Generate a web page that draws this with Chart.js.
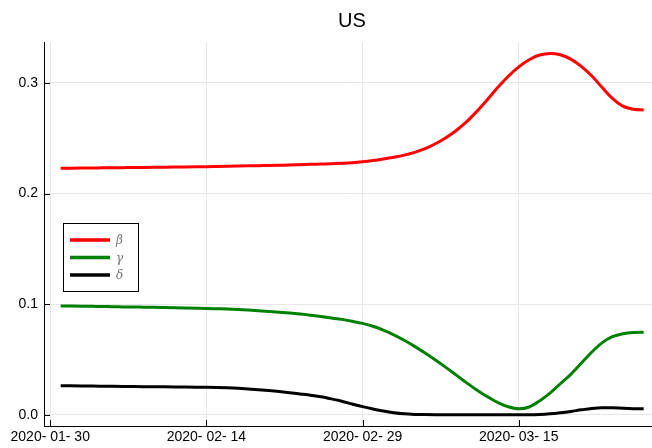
<!DOCTYPE html>
<html>
<head>
<meta charset="utf-8">
<script src="https://cdn.jsdelivr.net/npm/chart.js@4/dist/chart.umd.min.js"></script>
<style>
  html, body { margin: 0; padding: 0; background: #fff; }
  #wrap { width: 652px; height: 448px; position: relative; }
</style>
</head>
<body>
<div id="wrap"><canvas id="c" width="652" height="448"></canvas></div>
<script>
// Days since 2020-01-30
const days = [1,2,3,4,5,6,7,8,9,10,11,12,13,14,15,16,17,18,19,20,21,22,23,24,25,26,27,28,29,30,
  31,32,33,34,35,36,37,38,39,40,41,42,43,44,45,46,47,48,49,50,51,52,53,54,55,56,57];

const beta = [0.2228,0.2229,0.2230,0.2231,0.2232,0.2233,0.2234,0.2235,0.2236,0.2237,
  0.2238,0.2239,0.2240,0.2241,0.2242,0.2244,0.2246,0.2248,0.2250,0.2252,
  0.2254,0.2256,0.2258,0.2261,0.2264,0.2267,0.2270,0.2274,0.2279,0.2287,
  0.2298,0.2312,0.2328,0.2347,0.2372,0.2405,0.2450,0.2505,0.2570,0.2650,
  0.2745,0.2850,0.2960,0.3060,0.3145,0.3210,0.3252,0.3267,0.3255,0.3215,
  0.3150,0.3065,0.2960,0.2860,0.2790,0.2762,0.2755];

const gamma = [0.0983,0.0982,0.0981,0.0980,0.0978,0.0977,0.0975,0.0974,0.0972,0.0971,
  0.0969,0.0967,0.0965,0.0963,0.0961,0.0958,0.0955,0.0951,0.0946,0.0940,
  0.0934,0.0927,0.0919,0.0910,0.0900,0.0888,0.0875,0.0862,0.0845,0.0826,
  0.0800,0.0765,0.0722,0.0673,0.0618,0.0558,0.0495,0.0428,0.0358,0.0288,
  0.0222,0.0162,0.0110,0.0072,0.0054,0.0070,0.0125,0.0195,0.0280,0.0365,
  0.0465,0.0565,0.0650,0.0705,0.0732,0.0743,0.0745];

const delta = [0.0262,0.0261,0.0260,0.0259,0.0258,0.0257,0.0256,0.0255,0.0254,0.0253,
  0.0252,0.0251,0.0250,0.0249,0.0248,0.0246,0.0243,0.0239,0.0233,0.0226,
  0.0218,0.0209,0.0199,0.0188,0.0177,0.0162,0.0143,0.0122,0.0097,0.0073,
  0.0052,0.0033,0.0018,0.0008,0.0003,0.0001,0.0000,0.0000,0.0000,0.0000,
  0.0000,0.0000,0.0000,0.0000,0.0000,0.0000,0.0002,0.0008,0.0018,0.0030,
  0.0044,0.0056,0.0062,0.0062,0.0058,0.0055,0.0054];

const xTickValues = [0, 15, 30, 45];
const xTickLabels = ['2020- 01- 30', '2020- 02- 14', '2020- 02- 29', '2020- 03- 15'];
const yTickValues = [0, 0.1, 0.2, 0.3];
const yTickLabels = ['0.0', '0.1', '0.2', '0.3'];

const seriesLabels = ['β', 'γ', 'δ'];
const seriesColors = ['#ff0000', '#008000', '#000000'];
const titleText = 'US';

const FONT = '"Liberation Sans", Arial, Helvetica, sans-serif';

function pts(vals) { return days.map((d, i) => ({ x: d, y: vals[i] })); }

const innerTicks = {
  id: 'innerTicks',
  afterDraw(chart) {
    const ctx = chart.ctx, a = chart.chartArea;
    const xs = chart.scales.x, ys = chart.scales.y;
    ctx.save();
    ctx.strokeStyle = '#000';
    ctx.lineWidth = 1;
    ctx.beginPath();
    xTickValues.forEach(v => {
      const px = Math.round(xs.getPixelForValue(v)) + 0.5;
      ctx.moveTo(px, a.bottom); ctx.lineTo(px, a.bottom - 6);
    });
    yTickValues.forEach(v => {
      const py = Math.round(ys.getPixelForValue(v)) + 0.5;
      ctx.moveTo(a.left, py); ctx.lineTo(a.left + 6, py);
    });
    ctx.stroke();
    // title
    ctx.fillStyle = '#000';
    ctx.font = '20px ' + FONT;
    ctx.textAlign = 'center';
    ctx.textBaseline = 'middle';
    ctx.fillText(titleText, (a.left + a.right) / 2 + 4, 21);
    // legend
    const bx = 63.5, by = 223.5, bw = 75, bh = 68;
    ctx.fillStyle = '#fff';
    ctx.fillRect(bx, by, bw, bh);
    ctx.strokeStyle = '#000';
    ctx.strokeRect(bx, by, bw, bh);
    chart.data.datasets.forEach((ds, i) => {
      const y = 240 + i * 17.5;
      ctx.strokeStyle = ds.borderColor;
      ctx.lineWidth = 3.5;
      ctx.beginPath();
      ctx.moveTo(70, y); ctx.lineTo(110, y);
      ctx.stroke();
      ctx.fillStyle = '#777';
      ctx.font = 'italic 12px "DejaVu Serif", serif';
      ctx.textAlign = 'left';
      ctx.textBaseline = 'middle';
      ctx.fillText(ds.label, 116, y + 1);
    });
    ctx.restore();
  }
};

new Chart(document.getElementById('c'), {
  type: 'line',
  data: {
    datasets: [
      { label: seriesLabels[0], data: pts(beta), borderColor: seriesColors[0] },
      { label: seriesLabels[1], data: pts(gamma), borderColor: seriesColors[1] },
      { label: seriesLabels[2], data: pts(delta), borderColor: seriesColors[2] }
    ].map(d => Object.assign(d, { borderWidth: 3, pointRadius: 0, cubicInterpolationMode: 'monotone', fill: false }))
  },
  options: {
    responsive: false,
    animation: false,
    devicePixelRatio: 1,
    layout: { padding: { top: 42, left: 0, right: 0, bottom: 0 } },
    plugins: { legend: { display: false }, title: { display: false }, tooltip: { enabled: false } },
    scales: {
      x: {
        type: 'linear',
        min: -0.6, max: 57.8,
        afterBuildTicks: s => { s.ticks = xTickValues.map(v => ({ value: v })); },
        afterFit: s => { s.height = 22; },
        ticks: {
          autoSkip: false, maxRotation: 0, padding: 3,
          color: '#000', font: { family: FONT, size: 14 },
          callback: (v) => { const i = xTickValues.indexOf(v); return i >= 0 ? xTickLabels[i] : ''; }
        },
        grid: { color: '#e6e6e6', lineWidth: 1, drawTicks: false },
        border: { display: true, color: '#000', width: 1 }
      },
      y: {
        min: -0.0102, max: 0.337,
        afterBuildTicks: s => { s.ticks = yTickValues.map(v => ({ value: v })); },
        afterFit: s => { s.width = 44; },
        ticks: {
          padding: 6,
          color: '#000', font: { family: FONT, size: 14 },
          callback: (v) => { const i = yTickValues.findIndex(t => Math.abs(t - v) < 1e-9); return i >= 0 ? yTickLabels[i] : ''; }
        },
        grid: { color: '#e6e6e6', lineWidth: 1, drawTicks: false },
        border: { display: true, color: '#000', width: 1 }
      }
    }
  },
  plugins: [innerTicks]
});
</script>
</body>
</html>
